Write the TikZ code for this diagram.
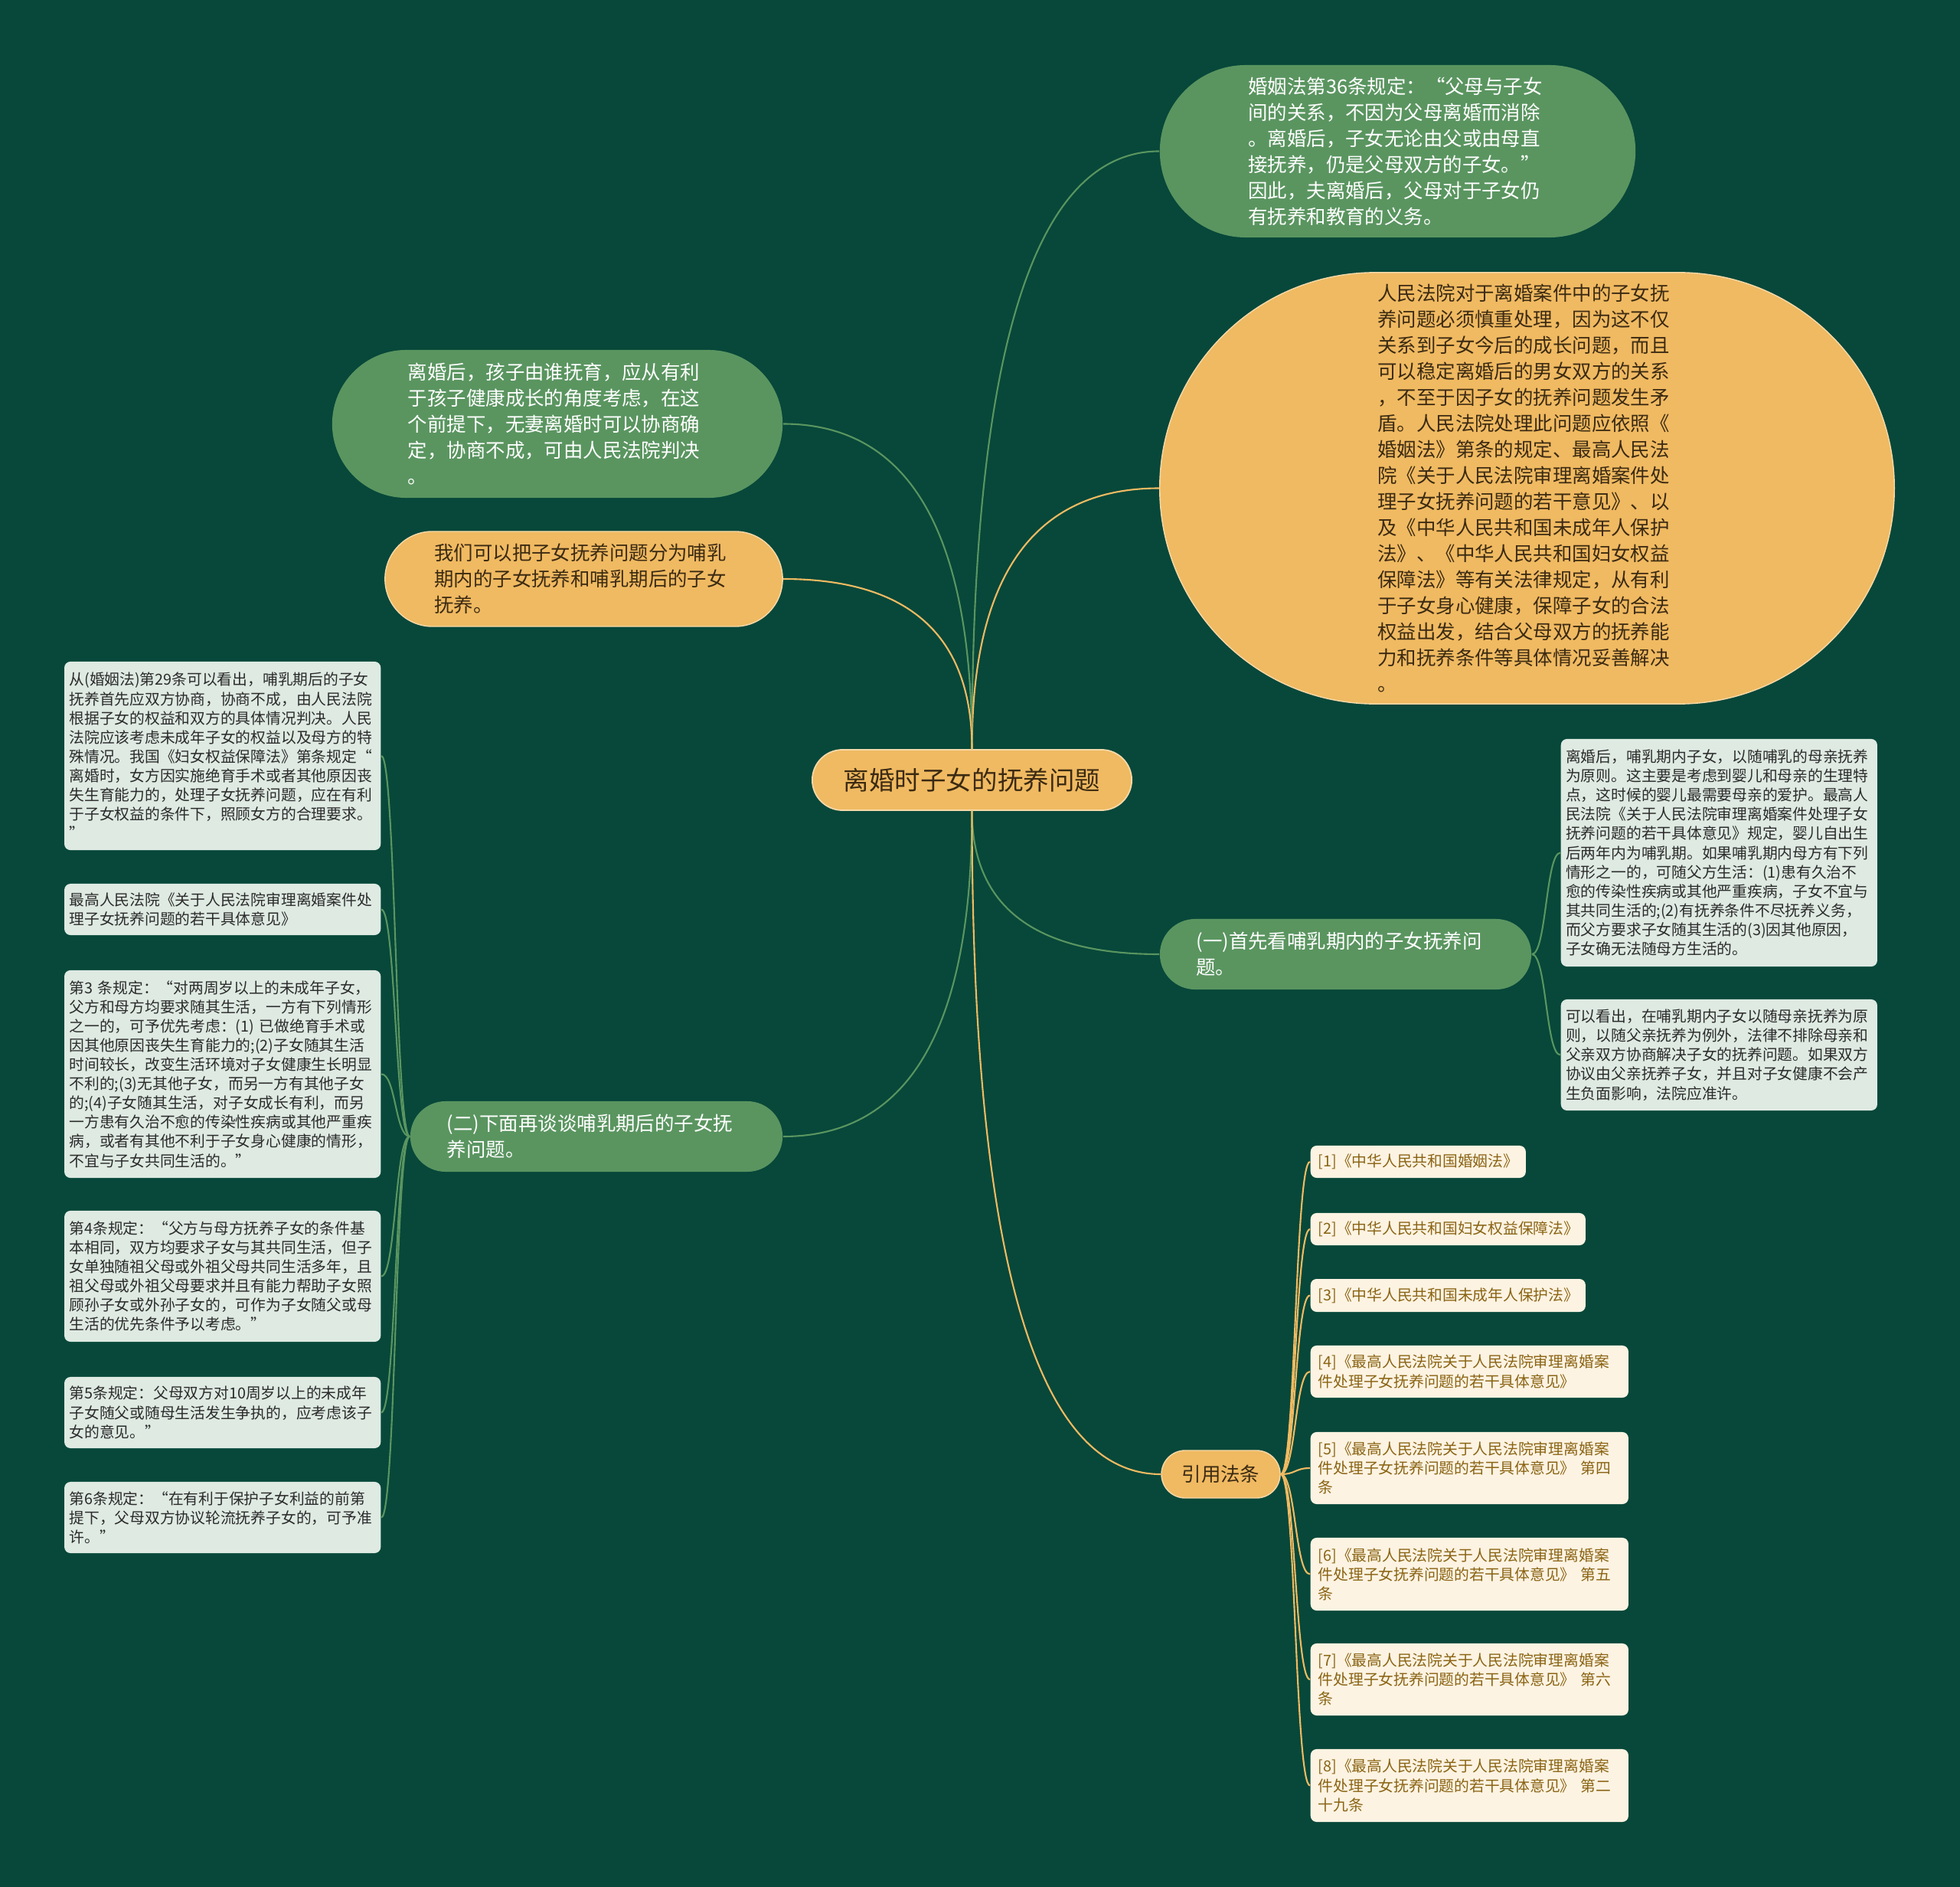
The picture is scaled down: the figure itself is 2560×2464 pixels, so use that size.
\documentclass[tikz,border=0pt]{standalone}
\usepackage{fontspec}
\setmainfont{Noto Sans CJK SC}
\usepackage{xcolor}
\definecolor{board}{HTML}{07483A}
\definecolor{leafgreen}{HTML}{5A9560}
\definecolor{amber}{HTML}{F0BA62}
\definecolor{mist}{HTML}{DEEAE2}
\definecolor{cream}{HTML}{FDF3E2}
\definecolor{bark}{HTML}{3B2A12}
\definecolor{rust}{HTML}{8A6414}
\definecolor{ink}{HTML}{2B2B2B}
\usepackage{tikz}
\usetikzlibrary{shapes.misc, positioning, calc}

\begin{document}
\begin{tikzpicture}[x=0.01cm, y=-0.01cm,
  pill/.style={rounded rectangle, inner xsep=0pt, inner ysep=0pt,
        text width=3.9cm, align=left,
        font=\fontsize{7.23}{9.67}\selectfont},
  greenpill/.style={pill, fill=leafgreen, text=white},
  amberpill/.style={pill, fill=amber, draw=amber!55!white, line width=0.4pt, text=bark},
  note/.style={rectangle, rounded corners=0.08cm, fill=mist, text=ink,
        inner xsep=0.065cm, inner ysep=0pt, text width=4cm, align=left,
        font=\fontsize{5.62}{7.14}\selectfont},
  cite/.style={rectangle, rounded corners=0.08cm, fill=cream, text=rust,
        inner xsep=0.1cm, inner ysep=0pt, align=left, anchor=west,
        font=\fontsize{5.62}{7.14}\selectfont},
  branch/.style={line width=0.6pt, to path={.. controls
        ($(\tikztostart)!.667!(\tikztostart |- \tikztotarget)$) and
        ($(\tikztotarget)!.667!(\tikztostart |- \tikztotarget)$) .. (\tikztotarget)}},
  twig/.style={line width=0.6pt, to path={.. controls +(#1,0) and +(-#1,0) .. (\tikztotarget)}}]

  \fill[board] (0,0) rectangle (2560,2464);
  \useasboundingbox (0,0) rectangle (2560,2464);

  % main topic
  \node[rectangle, rounded corners=0.395cm, fill=amber, draw=amber!55!white, line width=0.5pt,
        text=bark, minimum width=4.17cm, minimum height=0.79cm,
        font=\fontsize{9.53}{11}\selectfont] (topic) at (1269.5,1018.5)
        {离婚时子女的抚养问题};

  % first level
  \node[greenpill, minimum width=6.21cm, minimum height=2.25cm] (quote36) at (1825.5,197.5)
        {婚姻法第36条规定：“父母与子女\\间的关系，不因为父母离婚而消除\\。离婚后，子女无论由父或由母直\\接抚养，仍是父母双方的子女。”\\因此，夫离婚后，父母对于子女仍\\有抚养和教育的义务。};

  \node[amberpill, minimum width=9.59cm, minimum height=5.63cm] (court) at (1994.5,637.5)
        {人民法院对于离婚案件中的子女抚\\养问题必须慎重处理，因为这不仅\\关系到子女今后的成长问题，而且\\可以稳定离婚后的男女双方的关系\\，不至于因子女的抚养问题发生矛\\盾。人民法院处理此问题应依照《\\婚姻法》第条的规定、最高人民法\\院《关于人民法院审理离婚案件处\\理子女抚养问题的若干意见》、以\\及《中华人民共和国未成年人保护\\法》、《中华人民共和国妇女权益\\保障法》等有关法律规定，从有利\\于子女身心健康，保障子女的合法\\权益出发，结合父母双方的抚养能\\力和抚养条件等具体情况妥善解决\\。};

  \node[greenpill, minimum width=5.88cm, minimum height=1.93cm] (whoraise) at (728,553.5)
        {离婚后，孩子由谁抚育，应从有利\\于孩子健康成长的角度考虑，在这\\个前提下，无妻离婚时可以协商确\\定，协商不成，可由人民法院判决\\。};

  \node[amberpill, minimum width=5.19cm, minimum height=1.24cm] (splitnote) at (762.5,756)
        {我们可以把子女抚养问题分为哺乳\\期内的子女抚养和哺乳期后的子女\\抚养。};

  \node[greenpill, minimum width=4.85cm, minimum height=0.92cm] (nursing) at (1757.5,1246)
        {(一)首先看哺乳期内的子女抚养问\\题。};

  \node[greenpill, minimum width=4.86cm, minimum height=0.92cm] (afternursing) at (779,1484)
        {(二)下面再谈谈哺乳期后的子女抚\\养问题。};

  \node[rectangle, rounded corners=0.31cm, fill=amber, draw=amber!55!white, line width=0.4pt,
        text=bark, minimum width=1.55cm, minimum height=0.62cm,
        font=\fontsize{7.23}{9}\selectfont] (cites) at (1594.5,1925) {引用法条};

  \draw[branch, leafgreen] (topic.north) to (quote36.west);
  \draw[branch, amber] (topic.north) to (court.west);
  \draw[branch, leafgreen] (topic.north) to (whoraise.east);
  \draw[branch, amber] (topic.north) to (splitnote.east);
  \draw[branch, leafgreen] (topic.south) to (nursing.west);
  \draw[branch, leafgreen] (topic.south) to (afternursing.east);
  \draw[branch, amber] (topic.south) to (cites.west);

  % nursing period
  \node[note, anchor=west, minimum height=2.97cm] (nurse1) at (2038,1113.5)
        {离婚后，哺乳期内子女，以随哺乳的母亲抚养\\为原则。这主要是考虑到婴儿和母亲的生理特\\点，这时候的婴儿最需要母亲的爱护。最高人\\民法院《关于人民法院审理离婚案件处理子女\\抚养问题的若干具体意见》规定，婴儿自出生\\后两年内为哺乳期。如果哺乳期内母方有下列\\情形之一的，可随父方生活：(1)患有久治不\\愈的传染性疾病或其他严重疾病，子女不宜与\\其共同生活的;(2)有抚养条件不尽抚养义务，\\而父方要求子女随其生活的(3)因其他原因，\\子女确无法随母方生活的。};
  \node[note, anchor=west, minimum height=1.45cm] (nurse2) at (2038,1377.5)
        {可以看出，在哺乳期内子女以随母亲抚养为原\\则，以随父亲抚养为例外，法律不排除母亲和\\父亲双方协商解决子女的抚养问题。如果双方\\协议由父亲抚养子女，并且对子女健康不会产\\生负面影响，法院应准许。};

  \draw[twig=19, leafgreen] (nursing.east) to (nurse1.west);
  \draw[twig=19, leafgreen] (nursing.east) to (nurse2.west);

  % after nursing period
  \node[note, anchor=east, minimum height=2.46cm] (after1) at (498,987)
        {从(婚姻法)第29条可以看出，哺乳期后的子女\\抚养首先应双方协商，协商不成，由人民法院\\根据子女的权益和双方的具体情况判决。人民\\法院应该考虑未成年子女的权益以及母方的特\\殊情况。我国《妇女权益保障法》第条规定“\\离婚时，女方因实施绝育手术或者其他原因丧\\失生育能力的，处理子女抚养问题，应在有利\\于子女权益的条件下，照顾女方的合理要求。\\”};
  \node[note, anchor=east, minimum height=0.67cm] (after2) at (498,1187.5)
        {最高人民法院《关于人民法院审理离婚案件处\\理子女抚养问题的若干具体意见》};
  \node[note, anchor=east, minimum height=2.71cm] (after3) at (498,1402.5)
        {第3~条规定：“对两周岁以上的未成年子女，\\父方和母方均要求随其生活，一方有下列情形\\之一的，可予优先考虑：(1)~已做绝育手术或\\因其他原因丧失生育能力的;(2)子女随其生活\\时间较长，改变生活环境对子女健康生长明显\\不利的;(3)无其他子女，而另一方有其他子女\\的;(4)子女随其生活，对子女成长有利，而另\\一方患有久治不愈的传染性疾病或其他严重疾\\病，或者有其他不利于子女身心健康的情形，\\不宜与子女共同生活的。”};
  \node[note, anchor=east, minimum height=1.71cm] (after4) at (498,1666.5)
        {第4条规定：“父方与母方抚养子女的条件基\\本相同，双方均要求子女与其共同生活，但子\\女单独随祖父母或外祖父母共同生活多年，且\\祖父母或外祖父母要求并且有能力帮助子女照\\顾孙子女或外孙子女的，可作为子女随父或母\\生活的优先条件予以考虑。”};
  \node[note, anchor=east, minimum height=0.93cm] (after5) at (498,1844.5)
        {第5条规定：父母双方对10周岁以上的未成年\\子女随父或随母生活发生争执的，应考虑该子\\女的意见。”};
  \node[note, anchor=east, minimum height=0.93cm] (after6) at (498,1981.5)
        {第6条规定：“在有利于保护子女利益的前第\\提下，父母双方协议轮流抚养子女的，可予准\\许。”};

  \foreach \k in {1,...,6}
    \draw[twig=-19, leafgreen] (afternursing.west) to (after\k.east);

  % cited laws
  \node[cite, text width=2.61cm, minimum height=0.42cm] (law1) at (1711,1517)
        {[1]《中华人民共和国婚姻法》};
  \node[cite, text width=3.39cm, minimum height=0.42cm] (law2) at (1711,1605)
        {[2]《中华人民共和国妇女权益保障法》};
  \node[cite, text width=3.39cm, minimum height=0.43cm] (law3) at (1711,1691.5)
        {[3]《中华人民共和国未成年人保护法》};
  \node[cite, text width=3.95cm, minimum height=0.68cm] (law4) at (1711,1791)
        {[4]《最高人民法院关于人民法院审理离婚案\\件处理子女抚养问题的若干具体意见》};
  \node[cite, text width=3.95cm, minimum height=0.94cm] (law5) at (1711,1917)
        {[5]《最高人民法院关于人民法院审理离婚案\\件处理子女抚养问题的若干具体意见》~第四\\条};
  \node[cite, text width=3.95cm, minimum height=0.95cm] (law6) at (1711,2055.5)
        {[6]《最高人民法院关于人民法院审理离婚案\\件处理子女抚养问题的若干具体意见》~第五\\条};
  \node[cite, text width=3.95cm, minimum height=0.94cm] (law7) at (1711,2193)
        {[7]《最高人民法院关于人民法院审理离婚案\\件处理子女抚养问题的若干具体意见》~第六\\条};
  \node[cite, text width=3.95cm, minimum height=0.95cm] (law8) at (1711,2331.5)
        {[8]《最高人民法院关于人民法院审理离婚案\\件处理子女抚养问题的若干具体意见》~第二\\十九条};

  \foreach \k in {1,...,8}
    \draw[twig=19.5, amber] (cites.east) to (law\k.west);
\end{tikzpicture}
\end{document}
